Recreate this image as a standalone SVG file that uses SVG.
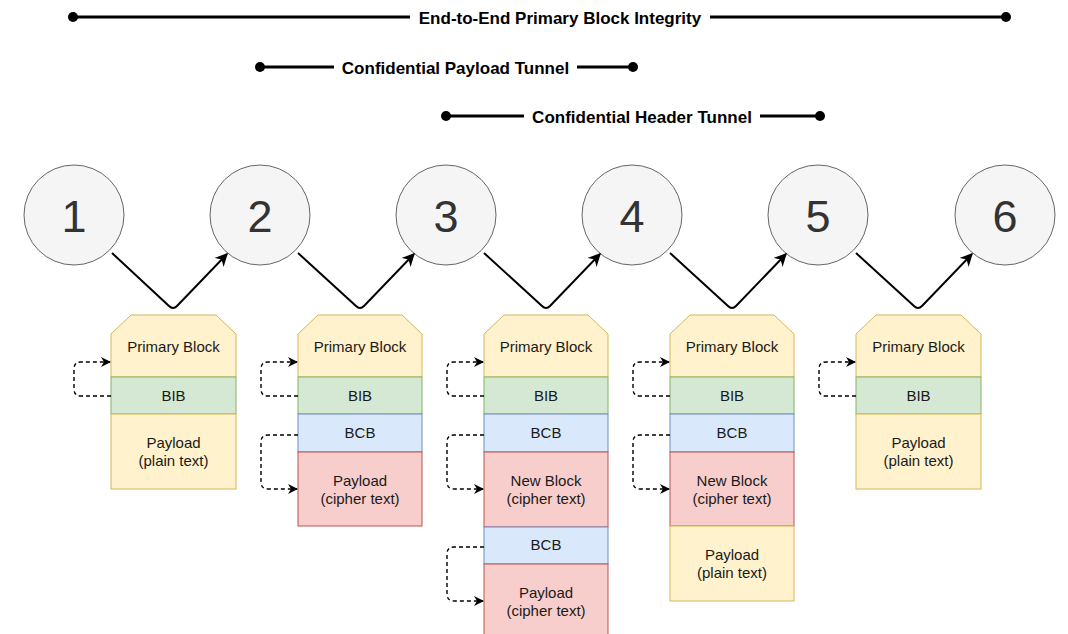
<svg xmlns="http://www.w3.org/2000/svg" width="1068" height="634" viewBox="0 0 1068 634">
  <defs>
    <style>
      .span-line { stroke: #000; stroke-width: 3; fill: none; }
      .span-dot { fill: #000; }
      .span-label { font-family: "Liberation Sans", Arial, Helvetica, sans-serif; font-size: 17px; font-weight: bold; fill: #000; text-anchor: middle; }
      .node-circle { fill: #f5f5f5; stroke: #666; stroke-width: 1; }
      .node-num { font-family: "Liberation Sans", Arial, Helvetica, sans-serif; font-size: 45px; fill: #333; text-anchor: middle; }
      .hop { stroke: #000; stroke-width: 2; fill: none; marker-end: url(#arrow); }
      .ref { stroke: #000; stroke-width: 1.4; stroke-dasharray: 4 3; fill: none; marker-end: url(#arrow-small); }
      .primary { fill: #fff2cc; stroke: #d6b656; }
      .bib { fill: #d5e8d4; stroke: #82b366; }
      .bcb { fill: #dae8fc; stroke: #6c8ebf; }
      .cipher { fill: #f8cecc; stroke: #b85450; }
      .lbl { font-family: "Liberation Sans", Arial, Helvetica, sans-serif; font-size: 15px; fill: #1a1a1a; text-anchor: middle; }
    </style>
    <marker id="arrow" viewBox="0 0 10 10" refX="9" refY="5" markerWidth="13" markerHeight="13" markerUnits="userSpaceOnUse" orient="auto">
      <path d="M0,0 L10,5 L0,10 L3,5 z" fill="#000"/>
    </marker>
    <marker id="arrow-small" viewBox="0 0 10 10" refX="9" refY="5" markerWidth="10" markerHeight="10" markerUnits="userSpaceOnUse" orient="auto">
      <path d="M0,0 L10,5 L0,10 L3,5 z" fill="#000"/>
    </marker>
  </defs>

  <rect width="1068" height="634" fill="#fff"/>

  <!-- Security spans -->
  <g id="span-integrity">
    <line class="span-line" x1="73" y1="17" x2="410" y2="17"/>
    <line class="span-line" x1="710" y1="17" x2="1006" y2="17"/>
    <circle class="span-dot" cx="73" cy="17" r="5"/>
    <circle class="span-dot" cx="1006" cy="17" r="5"/>
    <text class="span-label" x="560" y="24">End-to-End Primary Block Integrity</text>
  </g>
  <g id="span-payload-tunnel">
    <line class="span-line" x1="260" y1="67" x2="334" y2="67"/>
    <line class="span-line" x1="577" y1="67" x2="633" y2="67"/>
    <circle class="span-dot" cx="260" cy="67" r="5"/>
    <circle class="span-dot" cx="633" cy="67" r="5"/>
    <text class="span-label" x="455.5" y="74">Confidential Payload Tunnel</text>
  </g>
  <g id="span-header-tunnel">
    <line class="span-line" x1="446" y1="116" x2="524" y2="116"/>
    <line class="span-line" x1="760" y1="116" x2="820" y2="116"/>
    <circle class="span-dot" cx="446" cy="116" r="5"/>
    <circle class="span-dot" cx="820" cy="116" r="5"/>
    <text class="span-label" x="642" y="123">Confidential Header Tunnel</text>
  </g>

  <!-- Nodes -->
  <g id="node-1"><circle class="node-circle" cx="74" cy="215" r="50"/><text class="node-num" x="74" y="232">1</text></g>
  <g id="node-2"><circle class="node-circle" cx="260" cy="215" r="50"/><text class="node-num" x="260" y="232">2</text></g>
  <g id="node-3"><circle class="node-circle" cx="446" cy="215" r="50"/><text class="node-num" x="446" y="232">3</text></g>
  <g id="node-4"><circle class="node-circle" cx="632" cy="215" r="50"/><text class="node-num" x="632" y="232">4</text></g>
  <g id="node-5"><circle class="node-circle" cx="818" cy="215" r="50"/><text class="node-num" x="818" y="232">5</text></g>
  <g id="node-6"><circle class="node-circle" cx="1005" cy="215" r="50"/><text class="node-num" x="1005" y="232">6</text></g>

  <!-- Hops between nodes -->
  <g id="connectors">
    <path class="hop" d="M112,253 L169,306 Q173,310 177,306 L227,254"/>
    <path class="hop" d="M298,253 L356,306 Q360,310 364,306 L414,254"/>
    <path class="hop" d="M484,253 L542,306 Q546,310 550,306 L600,254"/>
    <path class="hop" d="M670,253 L728,306 Q732,310 736,306 L786,254"/>
    <path class="hop" d="M856,253 L914,306 Q918,310 922,306 L972,254"/>
  </g>

  <!-- Bundle at hop 1-2 -->
  <g id="bundle-1">
    <path class="primary" d="M111,334 L131,315 L216,315 L236,334 L236,377 L111,377 Z"/>
    <text class="lbl" x="173.5" y="352">Primary Block</text>
    <rect class="bib" x="111" y="377" width="125" height="37"/>
    <text class="lbl" x="173.5" y="401">BIB</text>
    <rect class="primary" x="111" y="414" width="125" height="75"/>
    <text class="lbl" x="173.5" y="448">Payload</text>
    <text class="lbl" x="173.5" y="466">(plain text)</text>
    <path class="ref" d="M111,396 H81 Q74,396 74,389 V369 Q74,362 81,362 H110"/>
  </g>

  <!-- Bundle at hop 2-3 -->
  <g id="bundle-2">
    <path class="primary" d="M298,334 L318,315 L402,315 L422,334 L422,377 L298,377 Z"/>
    <text class="lbl" x="360" y="352">Primary Block</text>
    <rect class="bib" x="298" y="377" width="124" height="37"/>
    <text class="lbl" x="360" y="401">BIB</text>
    <rect class="bcb" x="298" y="414" width="124" height="38"/>
    <text class="lbl" x="360" y="438">BCB</text>
    <rect class="cipher" x="298" y="452" width="124" height="74"/>
    <text class="lbl" x="360" y="486">Payload</text>
    <text class="lbl" x="360" y="504">(cipher text)</text>
    <path class="ref" d="M298,396 H268 Q261,396 261,389 V369 Q261,362 268,362 H297"/>
    <path class="ref" d="M298,435 H268 Q261,435 261,442 V482 Q261,489 268,489 H297"/>
  </g>

  <!-- Bundle at hop 3-4 -->
  <g id="bundle-3">
    <path class="primary" d="M484,334 L504,315 L588,315 L608,334 L608,377 L484,377 Z"/>
    <text class="lbl" x="546" y="352">Primary Block</text>
    <rect class="bib" x="484" y="377" width="124" height="37"/>
    <text class="lbl" x="546" y="401">BIB</text>
    <rect class="bcb" x="484" y="414" width="124" height="38"/>
    <text class="lbl" x="546" y="438">BCB</text>
    <rect class="cipher" x="484" y="452" width="124" height="75"/>
    <text class="lbl" x="546" y="486">New Block</text>
    <text class="lbl" x="546" y="504">(cipher text)</text>
    <rect class="bcb" x="484" y="527" width="124" height="37"/>
    <text class="lbl" x="546" y="550">BCB</text>
    <rect class="cipher" x="484" y="564" width="124" height="75"/>
    <text class="lbl" x="546" y="598">Payload</text>
    <text class="lbl" x="546" y="616">(cipher text)</text>
    <path class="ref" d="M484,396 H454 Q447,396 447,389 V369 Q447,362 454,362 H483"/>
    <path class="ref" d="M484,435 H454 Q447,435 447,442 V482 Q447,489 454,489 H483"/>
    <path class="ref" d="M484,547 H454 Q447,547 447,554 V594 Q447,601 454,601 H483"/>
  </g>

  <!-- Bundle at hop 4-5 -->
  <g id="bundle-4">
    <path class="primary" d="M670,334 L690,315 L774,315 L794,334 L794,377 L670,377 Z"/>
    <text class="lbl" x="732" y="352">Primary Block</text>
    <rect class="bib" x="670" y="377" width="124" height="37"/>
    <text class="lbl" x="732" y="401">BIB</text>
    <rect class="bcb" x="670" y="414" width="124" height="38"/>
    <text class="lbl" x="732" y="438">BCB</text>
    <rect class="cipher" x="670" y="452" width="124" height="74"/>
    <text class="lbl" x="732" y="486">New Block</text>
    <text class="lbl" x="732" y="504">(cipher text)</text>
    <rect class="primary" x="670" y="526" width="124" height="75"/>
    <text class="lbl" x="732" y="560">Payload</text>
    <text class="lbl" x="732" y="578">(plain text)</text>
    <path class="ref" d="M670,396 H640 Q633,396 633,389 V369 Q633,362 640,362 H669"/>
    <path class="ref" d="M670,435 H640 Q633,435 633,442 V482 Q633,489 640,489 H669"/>
  </g>

  <!-- Bundle at hop 5-6 -->
  <g id="bundle-5">
    <path class="primary" d="M856,334 L876,315 L961,315 L981,334 L981,377 L856,377 Z"/>
    <text class="lbl" x="918.5" y="352">Primary Block</text>
    <rect class="bib" x="856" y="377" width="125" height="37"/>
    <text class="lbl" x="918.5" y="401">BIB</text>
    <rect class="primary" x="856" y="414" width="125" height="75"/>
    <text class="lbl" x="918.5" y="448">Payload</text>
    <text class="lbl" x="918.5" y="466">(plain text)</text>
    <path class="ref" d="M856,396 H826 Q819,396 819,389 V369 Q819,362 826,362 H855"/>
  </g>
</svg>
